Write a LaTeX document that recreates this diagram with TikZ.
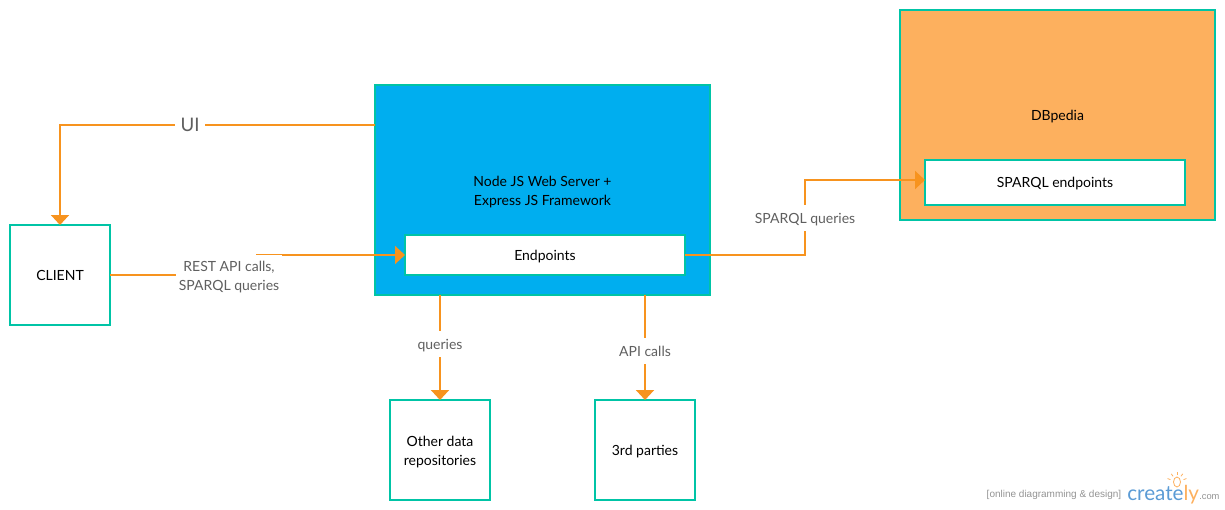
\documentclass[tikz,border=0pt]{standalone}
\usepackage{xcolor}
\usepackage{fontspec}
\setmainfont{Lato}
\newfontfamily\logofont{Liberation Sans}
\usepackage{tikz}
\usetikzlibrary{arrows.meta}
\definecolor{tealline}{HTML}{00C4A6}
\definecolor{serverblue}{HTML}{00AEEF}
\definecolor{dbfill}{HTML}{FDB05E}
\definecolor{linkorange}{HTML}{F7931E}
\definecolor{labelgrey}{HTML}{5F5F5F}
\definecolor{logoblue}{HTML}{5B9BD5}
\newcommand{\boxfont}{\fontsize{10.5pt}{14.5pt}\selectfont}
\begin{document}
\begin{tikzpicture}[
    x=0.75pt, y=-0.75pt,
    box/.style={rectangle, draw=tealline, line width=1.5pt, fill=white, align=center, inner sep=0pt, outer sep=0pt, font=\boxfont},
    oneline/.style={text height=8pt, text depth=0pt},
    arrow/.style={-{Triangle[length=7.5pt,width=13.5pt]}, line width=1.5pt, draw=linkorange},
    linklabel/.style={fill=white, text=labelgrey, align=center, inner sep=0pt, font=\boxfont}
]
\useasboundingbox (0,0) rectangle (1225,510);

% Outer boxes
\node[box, minimum width=251.25pt, minimum height=157.5pt, fill=serverblue, text=black] (server) at (542.5,190) {};
\node[box, minimum width=236.25pt, minimum height=157.5pt, fill=dbfill] (dbpedia) at (1057.5,115) {};
\node at (542.5,192) [font=\boxfont, align=center] (servername) {Node JS Web Server +\\Express JS Framework};
\node at (1057.5,115) [font=\boxfont, oneline] (dbname) {DBpedia};

% Inner boxes
\node[box, oneline, minimum width=210pt, minimum height=30pt] (endpoints) at (545,255) {Endpoints};
\node[box, oneline, minimum width=195pt, minimum height=33.75pt] (sparql) at (1055,182.5) {SPARQL endpoints};

% Small boxes
\node[box, oneline, minimum width=75pt, minimum height=75pt] (client) at (60,275) {CLIENT};
\node[box, minimum width=75pt, minimum height=75pt] (repos) at (440,450) {};
\node at (440,452) [font=\boxfont, align=center] (reposname) {Other data\\repositories};
\node[box, oneline, minimum width=75pt, minimum height=75pt] (parties) at (645,450) {3rd parties};

% Link labels
\coordinate (restbend) at (257,275);
\coordinate (uipoint) at (190,125);
\coordinate (sparqlin) at (925,180);

% Arrows
\draw[arrow] (uipoint -| server.west) -- (uipoint -| client) -- (client);
\draw[arrow] (client) -- (restbend) |- (endpoints.west);
\draw[arrow] (endpoints.east) -- (805,255) |- (sparqlin);
\draw[arrow] (repos |- server.south) -- (repos);
\draw[arrow] (parties |- server.south) -- (parties);

% Labels sit over the lines
\node[linklabel, minimum width=22pt, minimum height=18pt, font=\fontsize{14pt}{16pt}\selectfont] (ui) at (uipoint) {UI};
\node[linklabel, minimum width=79pt, minimum height=33pt] (rest) at (229,277) {REST API calls,\\SPARQL queries};
\node[linklabel, oneline, minimum height=19.5pt] (sparqllabel) at (805,218) {SPARQL queries};
\node[linklabel, oneline, minimum height=19.5pt] (querieslabel) at (440,344) {queries};
\node[linklabel, oneline, minimum height=19.5pt] (apilabel) at (645,351) {API calls};

% Logo
\node[anchor=east, inner sep=0pt, text=gray!85, font=\logofont\fontsize{7.5pt}{8pt}\selectfont] (logotext) at (1121.5,495) {[online diagramming \& design]};
\node[anchor=west, inner sep=0pt, text=logoblue, font=\fontsize{15.5pt}{20pt}\selectfont] (logoname) at (1127,495) {create\textcolor{dbfill}{ly}};
\node[anchor=west, inner sep=0pt, text=gray!85, font=\logofont\fontsize{7pt}{8pt}\selectfont] (logocom) at (1199,497) {.com};
\draw[dbfill, line width=.6pt] (1177,482) ellipse (3.5 and 5);
\foreach \a in {-160,-125,-90,-55,-20}
  \draw[dbfill, line width=.6pt] (1177,482) ++(\a:7) -- ++(\a:3);
\end{tikzpicture}
\end{document}
